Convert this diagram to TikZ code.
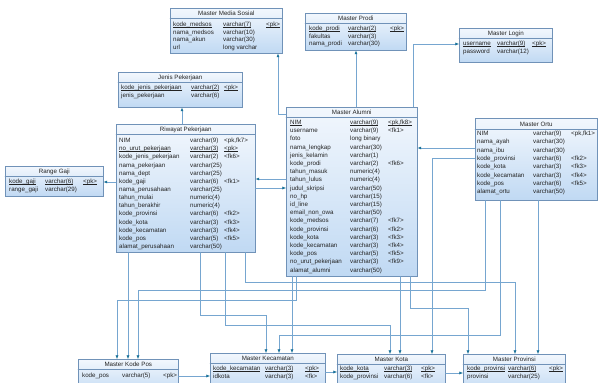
\documentclass[tikz,border=0pt]{standalone}
\usepackage{fontspec}
\setmainfont{Liberation Sans}
\usetikzlibrary{arrows.meta}
\definecolor{tblline}{RGB}{112,146,184}
\definecolor{tbltop}{RGB}{242,247,253}
\definecolor{tblbot}{RGB}{192,217,243}
\definecolor{relline}{RGB}{118,166,208}
\definecolor{reltip}{RGB}{22,112,152}
\definecolor{txt}{RGB}{35,35,35}
% underline for key columns, kept close to the baseline
\newcommand\keyline[1]{\setbox0\hbox{#1}\rlap{\rule[-1.1pt]{\wd0}{0.35pt}}\box0}

\begin{document}
\begin{tikzpicture}[x=1pt, y=-1pt, line cap=round,
  tbl/.style={draw=tblline, line width=0.6pt, top color=tbltop, bottom color=tblbot,
    anchor=north west, inner sep=0pt},
  sep/.style={draw=tblline, line width=0.5pt},
  ttl/.style={font=\fontsize{6.2}{7}\selectfont, text=txt, inner sep=0pt},
  col/.style={font=\fontsize{6.2}{7}\selectfont, text=txt, anchor=west, inner sep=0pt,
    text height=4.5pt, text depth=1.4pt},
  rel/.style={draw=relline, line width=0.5pt, -{Latex[length=3.6pt,width=3pt,color=reltip]}}]
  \fill[white] (0,0) rectangle (598,383);
  \useasboundingbox (0,0) rectangle (598,383);
  \clip (0,0) rectangle (598,383);

  % ---------------- Master Media Sosial ----------------
  \node[tbl, minimum width=112pt, minimum height=45pt] (medsos) at (170,8) {};
  \node[ttl] (medsos-t) at ([yshift=-5.5pt]medsos.north) {Master Media Sosial};
  \draw[sep] ([yshift=-10.5pt]medsos.north west) -- ([yshift=-10.5pt]medsos.north east);
  \foreach \n/\t/\k [count=\i from 0] in {\keyline{kode\_medsos}/\keyline{varchar(7)}/\keyline{<pk>},
      nama\_medsos/varchar(10)/{}, nama\_akun/varchar(30)/{}, url/long varchar/{}}{
    \node[col] (medsos-n\i) at (173,{25+7.6*\i}) {\n};
    \node[col] (medsos-y\i) at (223,{25+7.6*\i}) {\t};
    \node[col] (medsos-k\i) at (266,{25+7.6*\i}) {\k};
  }

  % ---------------- Master Prodi ----------------
  \node[tbl, minimum width=101pt, minimum height=37pt] (prodi) at (305,13) {};
  \node[ttl] (prodi-t) at ([yshift=-5.5pt]prodi.north) {Master Prodi};
  \draw[sep] ([yshift=-10.5pt]prodi.north west) -- ([yshift=-10.5pt]prodi.north east);
  \foreach \n/\t/\k [count=\i from 0] in {\keyline{kode\_prodi}/\keyline{varchar(2)}/\keyline{<pk>},
      fakultas/varchar(3)/{}, nama\_prodi/varchar(30)/{}}{
    \node[col] (prodi-n\i) at (309,{29+7.5*\i}) {\n};
    \node[col] (prodi-y\i) at (348,{29+7.5*\i}) {\t};
    \node[col] (prodi-k\i) at (390,{29+7.5*\i}) {\k};
  }

  % ---------------- Master Login ----------------
  \node[tbl, minimum width=93pt, minimum height=34pt] (login) at (459,28) {};
  \node[ttl] (login-t) at ([yshift=-5.5pt]login.north) {Master Login};
  \draw[sep] ([yshift=-10.5pt]login.north west) -- ([yshift=-10.5pt]login.north east);
  \foreach \n/\t/\k [count=\i from 0] in {\keyline{username}/\keyline{varchar(9)}/\keyline{<pk>},
      password/varchar(12)/{}}{
    \node[col] (login-n\i) at (463,{44+8*\i}) {\n};
    \node[col] (login-y\i) at (497,{44+8*\i}) {\t};
    \node[col] (login-k\i) at (532,{44+8*\i}) {\k};
  }

  % ---------------- Jenis Pekerjaan ----------------
  \node[tbl, minimum width=124pt, minimum height=35pt] (jenis) at (118,72) {};
  \node[ttl] (jenis-t) at ([yshift=-5.5pt]jenis.north) {Jenis Pekerjaan};
  \draw[sep] ([yshift=-10.5pt]jenis.north west) -- ([yshift=-10.5pt]jenis.north east);
  \foreach \n/\t/\k [count=\i from 0] in {\keyline{kode\_jenis\_pekerjaan}/\keyline{varchar(2)}/\keyline{<pk>},
      jenis\_pekerjaan/varchar(6)/{}}{
    \node[col] (jenis-n\i) at (121,{88+8*\i}) {\n};
    \node[col] (jenis-y\i) at (191,{88+8*\i}) {\t};
    \node[col] (jenis-k\i) at (224,{88+8*\i}) {\k};
  }

  % ---------------- Range Gaji ----------------
  \node[tbl, minimum width=98pt, minimum height=30pt] (gaji) at (5,166) {};
  \node[ttl] (gaji-t) at ([yshift=-5.5pt]gaji.north) {Range Gaji};
  \draw[sep] ([yshift=-10.5pt]gaji.north west) -- ([yshift=-10.5pt]gaji.north east);
  \foreach \n/\t/\k [count=\i from 0] in {\keyline{kode\_gaji}/\keyline{varchar(6)}/\keyline{<pk>},
      range\_gaji/varchar(29)/{}}{
    \node[col] (gaji-n\i) at (9,{182+8*\i}) {\n};
    \node[col] (gaji-y\i) at (45,{182+8*\i}) {\t};
    \node[col] (gaji-k\i) at (83,{182+8*\i}) {\k};
  }

  % ---------------- Riwayat Pekerjaan ----------------
  \node[tbl, minimum width=139pt, minimum height=128pt] (riwayat) at (116,124) {};
  \node[ttl] (riwayat-t) at ([yshift=-5.5pt]riwayat.north) {Riwayat Pekerjaan};
  \draw[sep] ([yshift=-10.5pt]riwayat.north west) -- ([yshift=-10.5pt]riwayat.north east);
  \foreach \n/\t/\k [count=\i from 0] in {NIM/varchar(9)/{<pk,fk7>},
      \keyline{no\_urut\_pekerjaan}/\keyline{varchar(3)}/\keyline{<pk>},
      kode\_jenis\_pekerjaan/varchar(2)/<fk6>, nama\_pekerjaan/varchar(25)/{},
      nama\_dept/varchar(25)/{}, kode\_gaji/varchar(6)/<fk1>,
      nama\_perusahaan/varchar(25)/{}, tahun\_mulai/numeric(4)/{},
      tahun\_berakhir/numeric(4)/{}, kode\_provinsi/varchar(6)/<fk2>,
      kode\_kota/varchar(3)/<fk3>, kode\_kecamatan/varchar(3)/<fk4>,
      kode\_pos/varchar(5)/<fk5>, alamat\_perusahaan/varchar(50)/{}}{
    \node[col] (riwayat-n\i) at (119,{141+8.15*\i}) {\n};
    \node[col] (riwayat-y\i) at (190,{141+8.15*\i}) {\t};
    \node[col] (riwayat-k\i) at (224,{141+8.15*\i}) {\k};
  }

  % ---------------- Master Alumni ----------------
  \node[tbl, minimum width=131pt, minimum height=169pt] (alumni) at (286,107) {};
  \node[ttl] (alumni-t) at ([yshift=-5.5pt]alumni.north) {Master Alumni};
  \draw[sep] ([yshift=-10.5pt]alumni.north west) -- ([yshift=-10.5pt]alumni.north east);
  \foreach \n/\t/\k [count=\i from 0] in {\keyline{NIM}/\keyline{varchar(9)}/\keyline{<pk,fk8>},
      username/varchar(9)/<fk1>, foto/long binary/{}, nama\_lengkap/varchar(30)/{},
      jenis\_kelamin/varchar(1)/{}, kode\_prodi/varchar(2)/<fk6>,
      tahun\_masuk/numeric(4)/{}, tahun\_lulus/numeric(4)/{},
      judul\_skripsi/varchar(50)/{}, no\_hp/varchar(15)/{}, id\_line/varchar(15)/{},
      email\_non\_owa/varchar(50)/{}, kode\_medsos/varchar(7)/<fk7>,
      kode\_provinsi/varchar(6)/<fk2>, kode\_kota/varchar(3)/<fk3>,
      kode\_kecamatan/varchar(3)/<fk4>, kode\_pos/varchar(5)/<fk5>,
      no\_urut\_pekerjaan/varchar(3)/<fk9>, alamat\_alumni/varchar(50)/{}}{
    \node[col] (alumni-n\i) at (290,{123+8.2*\i}) {\n};
    \node[col] (alumni-y\i) at (350,{123+8.2*\i}) {\t};
    \node[col] (alumni-k\i) at (388,{123+8.2*\i}) {\k};
  }

  % ---------------- Master Ortu ----------------
  \node[tbl, minimum width=122pt, minimum height=82pt] (orthu) at (475,118) {};
  \node[ttl] (orthu-t) at ([yshift=-6pt]orthu.north) {Master Ortu};
  \draw[sep] ([yshift=-11pt]orthu.north west) -- ([yshift=-11pt]orthu.north east);
  \foreach \n/\t/\k [count=\i from 0] in {NIM/varchar(9)/{<pk,fk1>},
      nama\_ayah/varchar(30)/{}, nama\_ibu/varchar(30)/{},
      kode\_provinsi/varchar(6)/<fk2>, kode\_kota/varchar(3)/<fk3>,
      kode\_kecamatan/varchar(3)/<fk4>, kode\_pos/varchar(6)/<fk5>,
      alamat\_ortu/varchar(50)/{}}{
    \node[col] (orthu-n\i) at (477,{134+8.3*\i}) {\n};
    \node[col] (orthu-y\i) at (533,{134+8.3*\i}) {\t};
    \node[col] (orthu-k\i) at (571,{134+8.3*\i}) {\k};
  }

  % ---------------- Master Kode Pos ----------------
  \node[tbl, minimum width=100pt, minimum height=36pt] (kodepos) at (78,359) {};
  \node[ttl] (kodepos-t) at ([yshift=-5.5pt]kodepos.north) {Master Kode Pos};
  \draw[sep] ([yshift=-10.5pt]kodepos.north west) -- ([yshift=-10.5pt]kodepos.north east);
  \node[col] (kodepos-n0) at (82,376) {kode\_pos};
  \node[col] (kodepos-y0) at (122,376) {varchar(5)};
  \node[col] (kodepos-k0) at (163,376) {<pk>};

  % ---------------- Master Kecamatan ----------------
  \node[tbl, minimum width=115pt, minimum height=40pt] (kecamatan) at (210,353) {};
  \node[ttl] (kecamatan-t) at ([yshift=-5.5pt]kecamatan.north) {Master Kecamatan};
  \draw[sep] ([yshift=-10.5pt]kecamatan.north west) -- ([yshift=-10.5pt]kecamatan.north east);
  \foreach \n/\t/\k [count=\i from 0] in {\keyline{kode\_kecamatan}/\keyline{varchar(3)}/\keyline{<pk>},
      idkota/varchar(3)/<fk>}{
    \node[col] (kecamatan-n\i) at (213,{369+8*\i}) {\n};
    \node[col] (kecamatan-y\i) at (265,{369+8*\i}) {\t};
    \node[col] (kecamatan-k\i) at (305,{369+8*\i}) {\k};
  }

  % ---------------- Master Kota ----------------
  \node[tbl, minimum width=108pt, minimum height=40pt] (kota) at (337,354) {};
  \node[ttl] (kota-t) at ([yshift=-5.5pt]kota.north) {Master Kota};
  \draw[sep] ([yshift=-10.5pt]kota.north west) -- ([yshift=-10.5pt]kota.north east);
  \foreach \n/\t/\k [count=\i from 0] in {\keyline{kode\_kota}/\keyline{varchar(3)}/\keyline{<pk>},
      kode\_provinsi/varchar(6)/<fk>}{
    \node[col] (kota-n\i) at (340,{369+8*\i}) {\n};
    \node[col] (kota-y\i) at (384,{369+8*\i}) {\t};
    \node[col] (kota-k\i) at (421,{369+8*\i}) {\k};
  }

  % ---------------- Master Provinsi ----------------
  \node[tbl, minimum width=102pt, minimum height=40pt] (provinsi) at (463,354) {};
  \node[ttl] (provinsi-t) at ([yshift=-5.5pt]provinsi.north) {Master Provinsi};
  \draw[sep] ([yshift=-10.5pt]provinsi.north west) -- ([yshift=-10.5pt]provinsi.north east);
  \foreach \n/\t/\k [count=\i from 0] in {\keyline{kode\_provinsi}/\keyline{varchar(6)}/\keyline{<pk>},
      provinsi/varchar(25)/{}}{
    \node[col] (provinsi-n\i) at (467,{369+8*\i}) {\n};
    \node[col] (provinsi-y\i) at (508,{369+8*\i}) {\t};
    \node[col] (provinsi-k\i) at (549,{369+8*\i}) {\k};
  }

  % ---------------- references (upper) ----------------
  \draw[rel] (alumni.west |- 0,114) -| (medsos.south -| 278,0);
  \draw[rel] (alumni.north -| 356,0) -- (prodi.south -| 356,0);
  \draw[rel] (alumni.north -| 413,0) |- (login.west |- 0,44);
  \draw[rel] (riwayat.north -| 182,0) -- (jenis.south -| 182,0);
  \draw[rel] (riwayat.west |- 0,182) -- (gaji.east |- 0,182);
  \draw[rel] (riwayat.east |- 0,188) -- (alumni.west |- 0,188);
  \draw[rel] (alumni.west |- 0,179) -- (riwayat.east |- 0,179);
  \draw[rel] (orthu.west |- 0,148) -- (alumni.east |- 0,148);

  % ---------------- references (to the lower tables) ----------------
  \draw[rel] (riwayat.south -| 128,0) -- (kodepos.north -| 128,0);
  \draw[rel] (alumni.south -| 296,0) |- (117,300) -- (kodepos.north -| 117,0);
  \draw[rel] (orthu.south -| 485,0) |- (138,290) -- (kodepos.north -| 138,0);
  \draw[rel] (riwayat.south -| 200,0) |- (266,315) -- (kecamatan.north -| 266,0);
  \draw[rel] (alumni.south -| 292,0) -- (kecamatan.north -| 292,0);
  \draw[rel] (orthu.south -| 500,0) |- (279,335) -- (kecamatan.north -| 279,0);
  \draw[rel] (riwayat.south -| 225,0) |- (390,325) -- (kota.north -| 390,0);
  \draw[rel] (alumni.south -| 400,0) -- (kota.north -| 400,0);
  \draw[rel] (orthu.west |- 0,158) -| (kota.north -| 432,0);
  \draw[rel] (riwayat.south -| 245,0) |- (515,282) -- (provinsi.north -| 515,0);
  \draw[rel] (alumni.south -| 410,0) |- (468,308) -- (provinsi.north -| 468,0);
  \draw[rel] (orthu.south -| 538,0) -- (provinsi.north -| 538,0);

  % ---------------- lower chain ----------------
  \draw[rel] (kodepos.east |- 0,376) -- (kecamatan.west |- 0,376);
  \draw[rel] (kecamatan.east |- 0,372) -- (kota.west |- 0,372);
  \draw[rel] (kota.east |- 0,373) -- (provinsi.west |- 0,373);
\end{tikzpicture}
\end{document}
